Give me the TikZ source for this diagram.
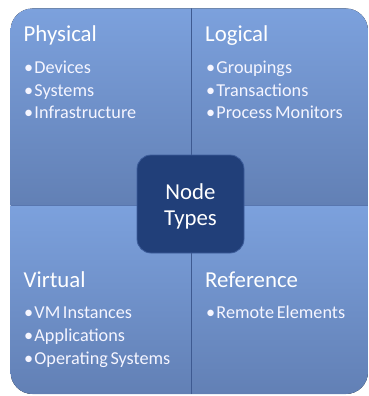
\documentclass[tikz,border=0pt]{standalone}
\usepackage{fontspec}
\setmainfont{Carlito}
\definecolor{quadtop}{RGB}{124,161,221}
\definecolor{quadbot}{RGB}{98,128,181}
\definecolor{centerfill}{RGB}{33,63,121}
\definecolor{centerline}{RGB}{62,94,156}
\definecolor{divider}{RGB}{62,90,145}
\definecolor{seam}{RGB}{88,118,175}
\tikzset{
  quadrant/.style={top color=quadtop, bottom color=quadbot},
  title/.style={anchor=base west, inner sep=0pt, text=white, font=\fontsize{22.8}{26}\selectfont},
  item/.style={anchor=base west, inner sep=0pt, text=white!96!blue, font=\fontsize{18.2}{21}\selectfont},
  centerbox/.style={fill=centerfill, draw=centerline, line width=0.8pt, rounded corners=14pt},
  centertext/.style={anchor=base, inner sep=0pt, text=white, font=\fontsize{22.8}{26}\selectfont}
}
\newcommand{\blt}{•\hspace{1.2pt}}
\newcommand{\wsp}{\hspace{2.6pt}}
\begin{document}
\begin{tikzpicture}[x=1pt,y=-1pt]
\useasboundingbox (0,0) rectangle (368,396);
\begin{scope}
  \clip[rounded corners=22pt] (10.5,8.5) rectangle (368,394);
  \fill[quadrant] (10.5,8.5) rectangle (191,205);
  \fill[quadrant] (191,8.5) rectangle (368,205);
  \fill[quadrant] (10.5,205) rectangle (191,394);
  \fill[quadrant] (191,205) rectangle (368,394);
  \draw[seam, line width=0.9pt] (10.5,205) -- (368,205);
  \draw[divider, line width=1pt] (191,8.5) -- (191,394);
\end{scope}
% top-left
\node[title] (tphys) at (23.5,42) {Physical};
\node[item] (i1) at (24,74) {\blt Devices};
\node[item] (i2) at (24,96) {\blt Systems};
\node[item] (i3) at (24,118) {\blt Infrastructure};
% top-right
\node[title] (tlog) at (205,42) {Logical};
\node[item] (i4) at (206,74) {\blt Groupings};
\node[item] (i5) at (206,96) {\blt Transactions};
\node[item] (i6) at (206,118) {\blt Process\wsp Monitors};
% bottom-left
\node[title] (tvirt) at (23.5,287) {Virtual};
\node[item] (i7) at (24,318) {\blt VM\wsp Instances};
\node[item] (i8) at (24,341) {\blt Applications};
\node[item] (i9) at (24,364) {\blt Operating\wsp Systems};
% bottom-right
\node[title] (tref) at (205,287) {Reference};
\node[item] (i10) at (206,318) {\blt Remote\wsp Elements};
% center
\draw[centerbox] (137,155) rectangle (244,253);
\node[centertext] (n1) at (190.5,199) {Node};
\node[centertext] (n2) at (190.5,225) {Types};
\end{tikzpicture}
\end{document}
